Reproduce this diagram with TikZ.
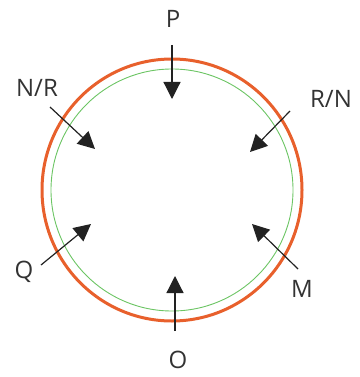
\documentclass[tikz,border=0pt]{standalone}
\usepackage{fontspec}
\setmainfont{Open Sans}
\usepackage{tikz}
\usetikzlibrary{arrows.meta}
\definecolor{ringOrange}{HTML}{E8602C}
\definecolor{ringGreen}{HTML}{6CC564}
\definecolor{arrInk}{HTML}{222222}
\begin{document}
\begin{tikzpicture}[
    x=1pt, y=-1pt,
    lbl/.style ={font=\fontsize{24}{28}\selectfont, text=black!80, inner sep=0pt},
    arr/.style ={-{Triangle[length=17pt,width=17pt]}, line width=1.2pt, arrInk},
  ]
\useasboundingbox (0,0) rectangle (359,377);

% ---- Rings ----
\draw[ringOrange, line width=3pt] (172,190) ellipse [x radius=130, y radius=131];
\draw[ringGreen, line width=0.9pt] (172,190) circle [radius=121];

% ---- Labels ----
\node[lbl] (p)  at (173,19)  {P};
\node[lbl] (nr) at (37,88)   {N/R};
\node[lbl] (rn) at (331,99)  {R/N};
\node[lbl] (q)  at (24,272)  {Q};
\node[lbl] (m)  at (302,289) {M};
\node[lbl] (o)  at (178,360) {O};

% ---- Arrow ends ----
\coordinate (pT)  at (172,45);  \coordinate (pH)  at (172,99);
\coordinate (nrT) at (50,107);  \coordinate (nrH) at (95,149);
\coordinate (rnT) at (290,111); \coordinate (rnH) at (250,152);
\coordinate (qT)  at (41,265);  \coordinate (qH)  at (91,224);
\coordinate (mT)  at (298,269); \coordinate (mH)  at (252,224);
\coordinate (oT)  at (175,331); \coordinate (oH)  at (175,276);

\draw[arr] (pT) -- (pH);
\draw[arr] (nrT) -- (nrH);
\draw[arr] (rnT) -- (rnH);
\draw[arr] (qT) -- (qH);
\draw[arr] (mT) -- (mH);
\draw[arr] (oT) -- (oH);

\end{tikzpicture}
\end{document}
